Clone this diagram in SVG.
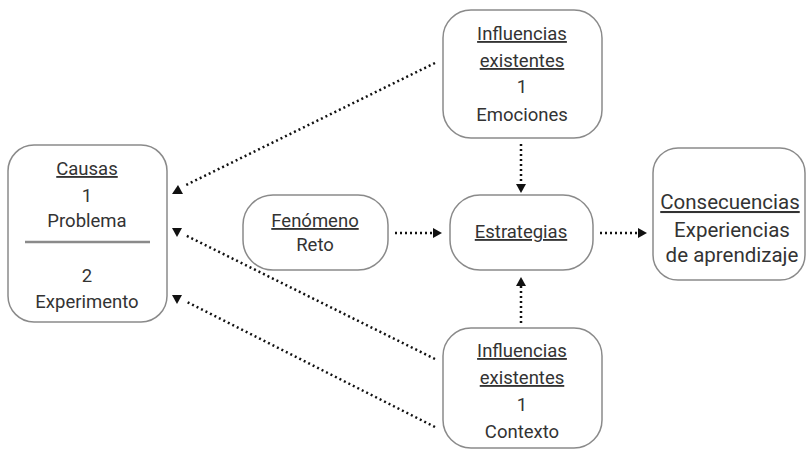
<svg xmlns="http://www.w3.org/2000/svg" width="807" height="453" viewBox="0 0 807 453">
<style>
.box{fill:#fff;stroke:#8a8a8a;stroke-width:1.5}
text{font-family:Roboto,"Liberation Sans",sans-serif;font-size:18.5px;fill:#333;text-anchor:middle}
.u{text-decoration:underline}
.big{font-size:20.5px}
.dot{fill:none;stroke:#111;stroke-width:2.5;stroke-dasharray:2 3}
.head{fill:#111}
</style>
<rect width="807" height="453" fill="#fff"/>
<g id="connectors">
<line class="dot" x1="435" y1="63" x2="184" y2="186"/>
<polygon class="head" points="172,194 183,194 178,185"/>
<line class="dot" x1="435" y1="359" x2="185" y2="235"/>
<polygon class="head" points="172,228 182,228 177,237"/>
<line class="dot" x1="435" y1="427" x2="185" y2="301"/>
<polygon class="head" points="172,295 182,295 177,304"/>
<line class="dot" x1="395" y1="233" x2="433" y2="233"/>
<polygon class="head" points="433,228 442,233 433,238"/>
<line class="dot" x1="600" y1="233" x2="638" y2="233"/>
<polygon class="head" points="638,228 647,233 638,238"/>
<line class="dot" x1="521" y1="144" x2="521" y2="184"/>
<polygon class="head" points="516,184 526,184 521,193"/>
<line class="dot" x1="521" y1="323" x2="521" y2="286"/>
<polygon class="head" points="516,286 526,286 521,277"/>
</g>
<g id="causas">
<rect class="box" x="8" y="145" width="159" height="177" rx="26"/>
<line x1="25" y1="242" x2="150" y2="242" stroke="#8a8a8a" stroke-width="2.5"/>
<text x="87" y="175" class="u">Causas</text>
<text x="87" y="202">1</text>
<text x="87" y="227">Problema</text>
<text x="87" y="282">2</text>
<text x="87" y="308">Experimento</text>
</g>
<g id="influencias-emociones">
<rect class="box" x="443" y="10" width="159" height="128" rx="28"/>
<text x="522" y="40" class="u">Influencias</text>
<text x="522" y="67" class="u">existentes</text>
<text x="522" y="93">1</text>
<text x="522" y="121">Emociones</text>
</g>
<g id="influencias-contexto">
<rect class="box" x="443" y="328" width="159" height="120" rx="28"/>
<text x="522" y="357" class="u">Influencias</text>
<text x="522" y="384" class="u">existentes</text>
<text x="522" y="411">1</text>
<text x="522" y="438">Contexto</text>
</g>
<g id="fenomeno">
<rect class="box" x="243" y="195" width="145" height="75" rx="30"/>
<text x="315" y="227" class="u">Fenómeno</text>
<text x="315" y="251">Reto</text>
</g>
<g id="estrategias">
<rect class="box" x="450" y="195" width="143" height="75" rx="30"/>
<text x="521" y="238" class="u">Estrategias</text>
</g>
<g id="consecuencias">
<rect class="box" x="653" y="148" width="152" height="132" rx="25"/>
<text x="730" y="209" class="u big">Consecuencias</text>
<text x="732" y="237" class="big">Experiencias</text>
<text x="732" y="262" class="big">de aprendizaje</text>
</g>
</svg>
